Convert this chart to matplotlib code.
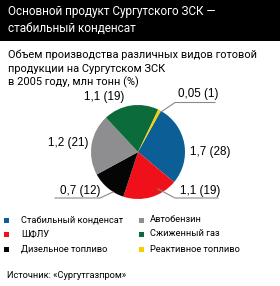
import matplotlib
matplotlib.use("Agg")
import matplotlib.pyplot as plt
from matplotlib.patches import Rectangle

# data
products = ["Стабильный конденсат", "ШФЛУ", "Дизельное топливо",
            "Автобензин", "Сжиженный газ", "Реактивное топливо"]
volumes = ["1,7", "1,1", "0,7", "1,2", "1,1", "0,05"]
shares = [28, 19, 12, 21, 19, 1]
colors = ["#0b5e96", "#f0101a", "#050505", "#8e8e90", "#0b6b3a", "#f5d000"]

title = ["Основной продукт Сургутского ЗСК —", "стабильный конденсат"]
subtitle = ["Объем производства различных видов готовой",
            "продукции на Сургутском ЗСК", "в 2005 году, млн тонн (%)"]
source = "Источник: «Сургутгазпром»"

W, H = 280, 286
NARROW = ["Roboto", "DejaVu Sans"]
REG = ["Liberation Sans", "DejaVu Sans"]

fig = plt.figure(figsize=(W / 100, H / 100), dpi=100)
fig.patch.set_facecolor("white")
renderer = fig.canvas.get_renderer()

def fx(px): return px / W
def fy(py): return 1 - py / H

def fit_size(s, width, family, base=10):
    # font size that makes string s about `width` pixels wide
    t = fig.text(0, 0, s, fontsize=base, family=family)
    w = t.get_window_extent(renderer).width
    t.remove()
    return base * width / w

# header bar
fig.patches.append(Rectangle((0, fy(41)), 1, 41 / H, transform=fig.transFigure,
                             facecolor="black", edgecolor="none", zorder=0))
ts = fit_size(title[0], 210, NARROW)
for line, py in zip(title, [12, 29]):
    fig.text(fx(8), fy(py), line, color="white", fontsize=ts, family=NARROW,
             va="center", ha="left")
ss = fit_size(subtitle[0], 249, NARROW)
for line, py in zip(subtitle, [55, 69, 82]):
    fig.text(fx(8), fy(py), line, color="black", fontsize=ss, family=NARROW,
             va="center", ha="left")

# pie
cx, cy, r = 138, 152, 47
ax = fig.add_axes([fx(cx - r), fy(cy + r), 2 * r / W, 2 * r / H])
ax.pie(shares, colors=colors, startangle=61, counterclock=False,
       wedgeprops=dict(linewidth=0))
ax.set_xlim(-1, 1)
ax.set_ylim(-1, 1)
ax.axis("off")

def d(px, py):
    return (px - cx) / r, (cy - py) / r

labels = [f"{v} ({s})" for v, s in zip(volumes, shares)]
ls = fit_size(labels[0], 40, REG)
lab_kw = dict(fontsize=ls, family=REG, va="center", clip_on=False)
# label positions (pixel) and alignment
lab_pos = [(190, 152, "left"), (180, 191, "left"), (100, 191, "right"),
           (88, 143, "right"), (104, 97, "center"), (178, 94, "left")]
for lab, (px, py, ha) in zip(labels, lab_pos):
    x, y = d(px, py)
    ax.text(x, y, lab, ha=ha, **lab_kw)

# leader lines
leaders = [
    [(158, 189), (175, 198), (218, 198)],
    [(113, 192), (100, 198), (55, 198)],
    [(161, 112), (175, 102.5), (215, 102.5)],
]
for pts in leaders:
    xs, ys = zip(*[d(px, py) for px, py in pts])
    ax.plot(xs, ys, color="#8a8a8a", lw=0.8, clip_on=False)

# legend
gs = fit_size(products[0], 102, NARROW)
rows = [220, 234, 249]
cols = [(4, 21), (139, 150)]
order = [0, 3, 1, 4, 2, 5]
for k, i in enumerate(order):
    row = rows[k // 2]
    sx, tx = cols[k % 2]
    fig.patches.append(Rectangle((fx(sx), fy(row + 2.5)), 5 / W, 5 / H,
                                 transform=fig.transFigure, facecolor=colors[i],
                                 edgecolor="none"))
    fig.text(fx(tx), fy(row), products[i], fontsize=gs, family=NARROW,
             va="center", ha="left")

fig.text(fx(7), fy(276), source, fontsize=gs, family=NARROW, va="center", ha="left")

fig.savefig("out.png", dpi=100)
